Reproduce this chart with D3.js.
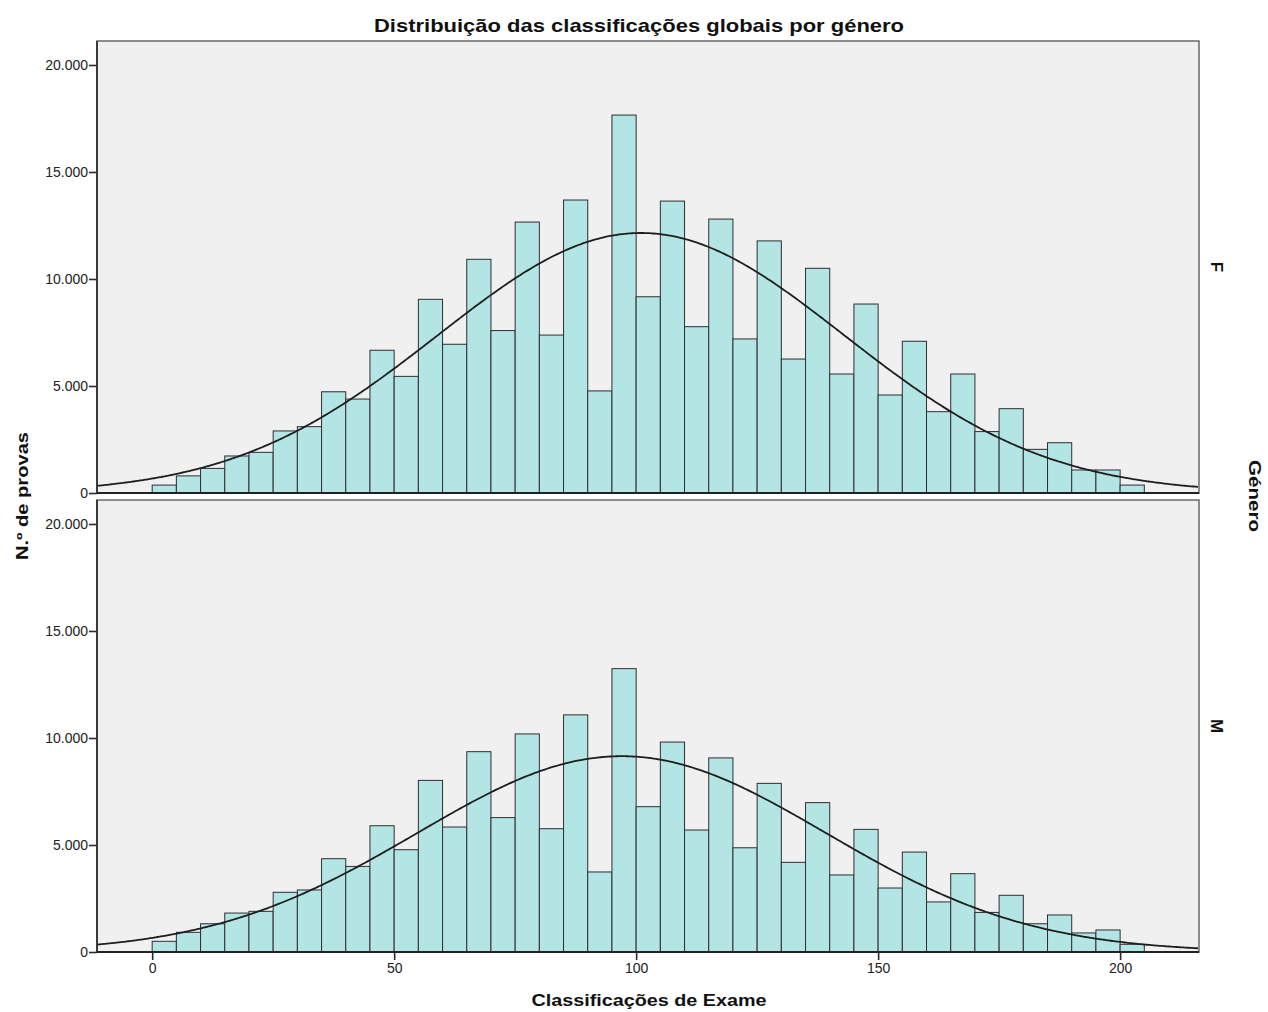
<!DOCTYPE html>
<html>
<head>
<meta charset="utf-8">
<script src="https://cdn.jsdelivr.net/npm/d3@7"></script>
<style>
  html, body { margin: 0; padding: 0; background: #ffffff; }
  svg { display: block; font-family: "Liberation Sans", Arial, sans-serif; }
</style>
</head>
<body>
<script>
// Histogram bins (lower edge of each 5-point class)
const binStarts = [0, 5, 10, 15, 20, 25, 30, 35, 40, 45, 50, 55, 60, 65, 70, 75, 80, 85, 90, 95,
                   100, 105, 110, 115, 120, 125, 130, 135, 140, 145, 150, 155, 160, 165, 170, 175,
                   180, 185, 190, 195, 200];
const binWidth = 5;

// Number of exams per bin, female (F) and male (M)
const countsF = [370, 800, 1150, 1730, 1900, 2900, 3100, 4730, 4390, 6670, 5450, 9050, 6950, 10920,
                 7590, 12660, 7380, 13690, 4770, 17660, 9170, 13640, 7770, 12800, 7200, 11780, 6260,
                 10500, 5560, 8830, 4580, 7090, 3800, 5560, 2870, 3940, 2040, 2350, 1075, 1075, 370];
const countsM = [500, 920, 1320, 1820, 1900, 2790, 2900, 4360, 4000, 5900, 4780, 8020, 5840, 9360,
                 6280, 10190, 5760, 11080, 3740, 13240, 6790, 9810, 5700, 9070, 4870, 7880, 4190,
                 6980, 3600, 5730, 2990, 4670, 2340, 3660, 1850, 2650, 1320, 1730, 890, 1030, 360];

// Panel labels and fitted normal curves (mean, standard deviation, peak height in counts)
const genders = ["F", "M"];
const curveMean = [101, 97];
const curveSd = [42, 42.3];
const curvePeak = [12150, 9150];

// Axis ticks
const yTicks = [0, 5000, 10000, 15000, 20000];
const xTicks = [0, 50, 100, 150, 200];

// ---- layout ----
const W = 1268, H = 1012;
const left = 97, right = 1199;
const panelTops = [41, 500];
const panelH = 452;

const svg = d3.select("body").append("svg").attr("width", W).attr("height", H);

const ptLocale = d3.formatLocale({ decimal: ",", thousands: ".", grouping: [3], currency: ["€", ""] });
const fmt = ptLocale.format(",d");

const x = d3.scaleLinear().domain([-11.4, 216.3]).range([left, right]);

const seriesCounts = [countsF, countsM];

genders.forEach((g, i) => {
  const top = panelTops[i];
  const bottom = top + panelH;
  const y = d3.scaleLinear().domain([0, 21121]).range([bottom, top]);
  const panel = svg.append("g");

  // panel frame
  panel.append("rect")
    .attr("x", left).attr("y", top)
    .attr("width", right - left).attr("height", panelH)
    .attr("fill", "#f0f0f0").attr("stroke", "#6a6a6a").attr("stroke-width", 1.5);

  const clipId = "clip" + i;
  svg.append("clipPath").attr("id", clipId)
    .append("rect").attr("x", left).attr("y", top).attr("width", right - left).attr("height", panelH);

  // bars
  panel.append("g").selectAll("rect")
    .data(binStarts.map((b, k) => ({ b, v: seriesCounts[i][k] })))
    .join("rect")
    .attr("x", d => x(d.b))
    .attr("y", d => y(d.v))
    .attr("width", d => x(d.b + binWidth) - x(d.b))
    .attr("height", d => y(0) - y(d.v))
    .attr("fill", "#b4e5e5")
    .attr("stroke", "#2e2e2e")
    .attr("stroke-width", 1);

  // fitted normal curve
  const xs = d3.range(-11.4, 216.5, 0.5);
  const m = curveMean[i], s = curveSd[i], pk = curvePeak[i];
  const line = d3.line()
    .x(d => x(d))
    .y(d => y(pk * Math.exp(-((d - m) * (d - m)) / (2 * s * s))))
    .curve(d3.curveBasis);
  panel.append("path")
    .attr("d", line(xs))
    .attr("clip-path", `url(#${clipId})`)
    .attr("fill", "none").attr("stroke", "#1e1e1e").attr("stroke-width", 1.8);

  // y axis
  const yAxis = panel.append("g")
    .attr("transform", `translate(${left},0)`)
    .call(d3.axisLeft(y).tickValues(yTicks).tickSize(8).tickPadding(1).tickFormat(fmt));
  yAxis.select(".domain").remove();
  yAxis.selectAll(".tick line").attr("stroke", "#2a2a2a").attr("stroke-width", 1.6);
  yAxis.selectAll(".tick text").attr("fill", "#222").style("font-size", "14px")
    .style("font-family", "'Liberation Sans', Arial, sans-serif");

  // axis lines (left and baseline)
  panel.append("line").attr("x1", left).attr("x2", left).attr("y1", top).attr("y2", bottom)
    .attr("stroke", "#3a3a3a").attr("stroke-width", 2);
  panel.append("line").attr("x1", left).attr("x2", right).attr("y1", bottom).attr("y2", bottom)
    .attr("stroke", "#222").attr("stroke-width", 2.2);

  // panel strip label
  svg.append("text")
    .attr("transform", `translate(1211,${(top + bottom) / 2}) rotate(90)`)
    .attr("text-anchor", "middle")
    .style("font-size", "17px").style("font-weight", "bold")
    .attr("fill", "#111")
    .text(g);

  if (i === genders.length - 1) {
    const xAxis = panel.append("g")
      .attr("transform", `translate(0,${bottom})`)
      .call(d3.axisBottom(x).tickValues(xTicks).tickSize(8).tickPadding(3));
    xAxis.select(".domain").remove();
    xAxis.selectAll(".tick line").attr("stroke", "#2a2a2a").attr("stroke-width", 1.6);
    xAxis.selectAll(".tick text").attr("fill", "#222").style("font-size", "14px")
      .style("font-family", "'Liberation Sans', Arial, sans-serif");
  }
});

// title and axis titles
svg.append("text")
  .attr("x", 639).attr("y", 32)
  .attr("text-anchor", "middle")
  .attr("textLength", 530).attr("lengthAdjust", "spacingAndGlyphs")
  .style("font-size", "19px").style("font-weight", "bold").attr("fill", "#111")
  .text("Distribuição das classificações globais por género");

svg.append("text")
  .attr("x", 649).attr("y", 1006)
  .attr("text-anchor", "middle")
  .attr("textLength", 235).attr("lengthAdjust", "spacingAndGlyphs")
  .style("font-size", "16px").style("font-weight", "bold").attr("fill", "#111")
  .text("Classificações de Exame");

svg.append("text")
  .attr("transform", "translate(28,496) rotate(-90)")
  .attr("text-anchor", "middle")
  .attr("textLength", 128).attr("lengthAdjust", "spacingAndGlyphs")
  .style("font-size", "16px").style("font-weight", "bold").attr("fill", "#111")
  .text("N.º de provas");

svg.append("text")
  .attr("transform", "translate(1249,496) rotate(90)")
  .attr("text-anchor", "middle")
  .attr("textLength", 72).attr("lengthAdjust", "spacingAndGlyphs")
  .style("font-size", "17px").style("font-weight", "bold").attr("fill", "#111")
  .text("Género");
</script>
</body>
</html>
